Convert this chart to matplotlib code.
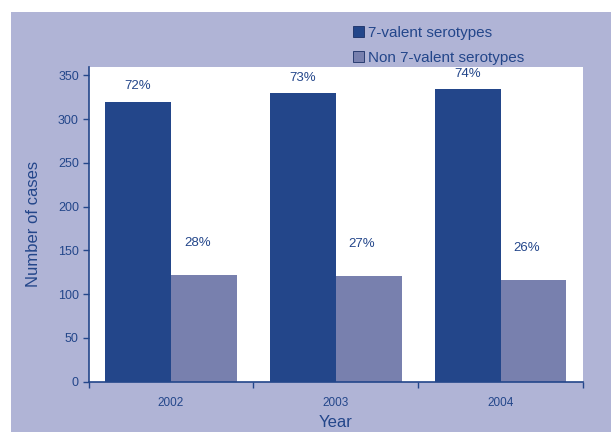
import matplotlib
matplotlib.use("Agg")
import matplotlib.pyplot as plt
import numpy as np
from matplotlib.patches import Rectangle

plt.rcParams['font.family'] = ['Liberation Sans', 'DejaVu Sans']

# datos
years = ["2002", "2003", "2004"]
valent7 = [320, 330, 334]
non_valent7 = [122, 121, 116]
pct_valent7 = ["72%", "73%", "74%"]
pct_non = ["28%", "27%", "26%"]
series_names = ["7-valent serotypes", "Non 7-valent serotypes"]

dark = "#23468a"
light = "#7880ae"
lavender = "#b0b4d6"
txt = "#23468a"

fig = plt.figure(figsize=(6.11, 4.32), dpi=100, facecolor="white")
# fondo lila
fig.patches.append(Rectangle((11 / 611, 0), 1, (432 - 12) / 432,
                             transform=fig.transFigure, facecolor=lavender,
                             edgecolor="none", zorder=-10))

ax = fig.add_axes([0.145, 0.1164, 0.809, 0.7292])
ax.set_zorder(1)
ax.set_facecolor("white")

x = np.arange(len(years))
w = 0.4
b1 = ax.bar(x - w / 2, valent7, w, color=dark, label=series_names[0], zorder=2)
b2 = ax.bar(x + w / 2, non_valent7, w, color=light, label=series_names[1], zorder=2)

for xi, v, p in zip(x, valent7, pct_valent7):
    ax.annotate(p, (xi - w / 2, v), xytext=(0, 11), textcoords="offset points",
                ha="center", va="center", color=txt, fontsize=9.5)
for xi, v, p in zip(x, non_valent7, pct_non):
    ax.annotate(p, (xi + w / 2 - 0.04, v), xytext=(0, 23), textcoords="offset points",
                ha="center", va="center", color=txt, fontsize=9.5)

ax.set_xlim(-0.5, len(years) - 0.5)
ax.set_ylim(0, 360)
ax.set_yticks(np.arange(0, 351, 50))
ax.set_xticks(x)
ax.set_xticklabels(years)
ax.set_xticks(np.arange(-0.5, len(years)), minor=True)
ax.tick_params(axis="x", which="major", length=0, pad=11, labelsize=8.5, labelcolor=txt)
ax.tick_params(axis="x", which="minor", length=4, direction="out", color=txt, width=1)
ax.tick_params(axis="y", length=4, direction="out", color=txt, width=1,
               labelsize=9, labelcolor=txt, pad=3)

for s in ["top", "right"]:
    ax.spines[s].set_visible(False)
for s in ["left", "bottom"]:
    ax.spines[s].set_color(txt)
    ax.spines[s].set_linewidth(1.2)

ax.set_ylabel("Number of cases", color=txt, fontsize=12, labelpad=12)
ax.set_xlabel("Year", color=txt, fontsize=12, labelpad=4)

leg = fig.legend(handles=[b1, b2], loc="upper left", bbox_to_anchor=(0.567, 0.955),
                 frameon=False, fontsize=11, labelcolor=txt, handlelength=0.75,
                 handleheight=0.75, handletextpad=0.25, labelspacing=0.75,
                 borderaxespad=0)
for h in leg.legend_handles:
    h.set_edgecolor("#1a2f66")
    h.set_linewidth(0.6)

fig.savefig("out.png", dpi=100, facecolor="white")
